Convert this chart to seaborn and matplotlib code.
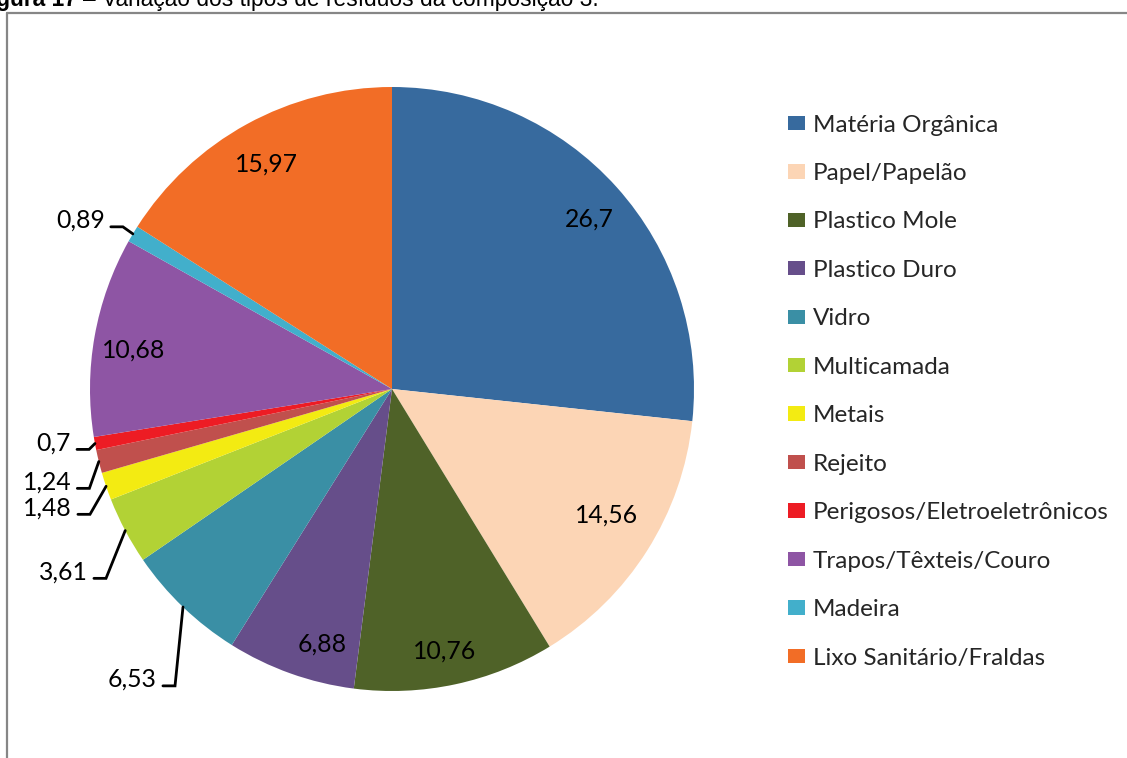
import matplotlib
matplotlib.use("Agg")
import matplotlib.pyplot as plt
from matplotlib.lines import Line2D
from matplotlib.patches import Patch
import numpy as np
import seaborn as sns

# Waste composition (%) for composition 3
CATEGORIES = [
    "Matéria Orgânica", "Papel/Papelão", "Plastico Mole", "Plastico Duro",
    "Vidro", "Multicamada", "Metais", "Rejeito",
    "Perigosos/Eletroeletrônicos", "Trapos/Têxteis/Couro", "Madeira",
    "Lixo Sanitário/Fraldas",
]
VALUES = [26.7, 14.56, 10.76, 6.88, 6.53, 3.61, 1.48, 1.24, 0.7, 10.68, 0.89, 15.97]
COLORS = [
    "#376A9E", "#FCD5B5", "#4F6228", "#664E8A", "#3A8FA5", "#B2D235",
    "#F3EB12", "#C0504D", "#ED1C24", "#8E55A4", "#42AFCB", "#F26D26",
]

# label placement in pie-radius units
INSIDE_POS = {0: (0.652, 0.561), 1: (0.711, -0.416), 2: (0.175, -0.869),
              3: (-0.232, -0.844), 9: (-0.854, 0.128), 11: (-0.417, 0.746)}
OUTSIDE_ELBOW = {4: (-0.7185, -0.983), 5: (-0.947, -0.627), 6: (-1.0, -0.415),
                 7: (-1.002, -0.329), 8: (-1.003, -0.200), 10: (-0.891, 0.537)}

sns.set_theme(style="white")
plt.rcParams["font.family"] = ["Lato", "DejaVu Sans"]

W, H = 1127, 758
fig = plt.figure(figsize=(W / 100, H / 100), dpi=100, facecolor="white")

cx, cy, R = 392, 389, 302
ax = fig.add_axes([(cx - R) / W, (H - cy - R) / H, 2 * R / W, 2 * R / H])
palette = sns.color_palette(COLORS)
wedges, _ = ax.pie(VALUES, colors=palette, startangle=90, counterclock=False,
                   radius=1.0, wedgeprops=dict(linewidth=0))
ax.set_xlim(-1, 1)
ax.set_ylim(-1, 1)
ax.axis("off")


def fmt(v):
    return f"{v:g}".replace(".", ",")


label_size = 17.8
for i, (x, y) in INSIDE_POS.items():
    ax.text(x, y, fmt(VALUES[i]), ha="center", va="center",
            fontsize=label_size, color="black")

seg = 0.040
gap = 0.020
for i, (ex, ey) in OUTSIDE_ELBOW.items():
    w = wedges[i]
    mid = np.deg2rad((w.theta1 + w.theta2) / 2)
    px, py = np.cos(mid), np.sin(mid)
    ax.plot([ex - seg, ex, px], [ey, ey, py], color="black", lw=2,
            solid_joinstyle="miter", clip_on=False)
    ax.text(ex - seg - gap, ey - 0.004, fmt(VALUES[i]), ha="right",
            va="baseline", fontsize=label_size, color="black")

# legend on the right
handles = [Patch(facecolor=c, edgecolor="none") for c in palette]
leg_fs = 17.5
px_per_pt = 100 / 72
fig.legend(handles, CATEGORIES, loc="upper left",
           bbox_to_anchor=(788 / W, 1 - 114.5 / H), bbox_transform=fig.transFigure,
           frameon=False, fontsize=leg_fs, borderpad=0, borderaxespad=0,
           handlelength=17 / (leg_fs * px_per_pt), handleheight=13 / (leg_fs * px_per_pt),
           handletextpad=8 / (leg_fs * px_per_pt), labelspacing=1.13)

# chart frame (only top and left edges fall inside the image)
frame_c = "#868686"
fig.add_artist(Line2D([7 / W, 7 / W], [1 - 12.5 / H, 0], color=frame_c, lw=1.6,
                      transform=fig.transFigure))
fig.add_artist(Line2D([7 / W, 1], [1 - 12.5 / H, 1 - 12.5 / H], color=frame_c, lw=1.6,
                      transform=fig.transFigure))

# figure caption, mostly above the top edge
cap_fs = 16.4
fig.text(77 / W, 1 - 6 / H, "Figura 17", ha="right", va="baseline",
         fontsize=cap_fs, fontweight="bold", family="Liberation Sans", color="black")
fig.text(83 / W, 1 - 6 / H, "– Variação dos tipos de resíduos da composição 3.",
         ha="left", va="baseline", fontsize=cap_fs, family="Liberation Sans", color="black")

fig.savefig("out.png", dpi=100, facecolor="white")
